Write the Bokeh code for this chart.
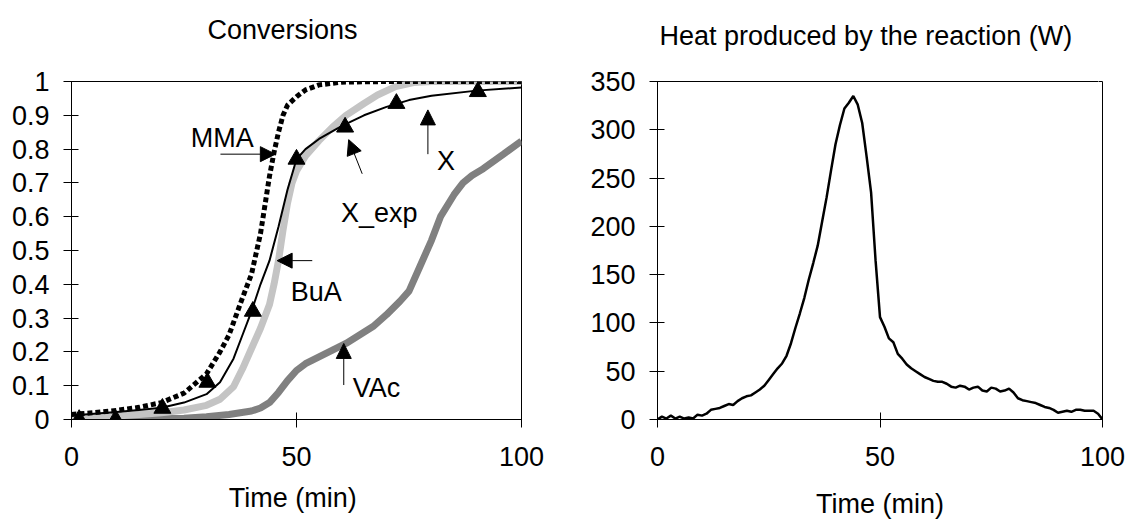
from bokeh.plotting import figure
from bokeh.layouts import row
from bokeh.models import Arrow, NormalHead, Label, Range1d, FixedTicker, LinearAxis, Title
from bokeh.embed import file_html
from bokeh.resources import INLINE

FONT = "Liberation Sans"
FS = "27px"

# ---------------- Conversions (left chart) ----------------
mma_t = [0, 5, 10, 15, 20, 25, 30, 33, 35, 38, 40, 42, 44, 45, 46, 47, 48, 50, 52, 55, 60, 70, 80, 90, 100]
mma_y = [0.015, 0.02, 0.027, 0.036, 0.05, 0.078, 0.135, 0.2, 0.25, 0.36, 0.43, 0.55, 0.72, 0.79, 0.85, 0.9,
         0.93, 0.955, 0.975, 0.99, 0.998, 1.0, 1.0, 1.0, 1.0]

bua_t = [0, 5, 10, 15, 20, 25, 30, 33, 36, 38, 40, 42, 44, 45, 46, 47, 48, 49, 50, 52, 55, 58, 61, 65, 68,
         72, 76, 80, 90, 100]
bua_y = [0.005, 0.007, 0.01, 0.015, 0.02, 0.028, 0.042, 0.06, 0.097, 0.15, 0.21, 0.27, 0.34, 0.4, 0.47, 0.56,
         0.64, 0.7, 0.735, 0.78, 0.825, 0.865, 0.9, 0.935, 0.96, 0.985, 0.997, 1.0, 1.0, 1.0]

x_t = [0, 5, 10, 15, 20, 25, 30, 33, 36, 38, 40, 42, 44, 46, 48, 50, 52, 55, 60, 65, 70, 75, 80, 90, 100]
x_y = [0.012, 0.017, 0.022, 0.028, 0.035, 0.05, 0.075, 0.11, 0.18, 0.25, 0.32, 0.4, 0.47, 0.57, 0.68, 0.77,
       0.8, 0.83, 0.868, 0.9, 0.925, 0.945, 0.958, 0.973, 0.982]

xexp_t = [1.7, 9.8, 20.2, 30.2, 40.3, 50.0, 60.8, 72.2, 90.3]
xexp_y = [0.0, 0.0, 0.033, 0.11, 0.32, 0.77, 0.865, 0.935, 0.97]

vac_t = [0, 10, 20, 25, 30, 35, 40, 42, 44, 46, 48, 50, 52, 55, 58, 61, 64, 67, 70, 73, 75, 77.5, 80, 82,
         85, 87, 89, 91.5, 96, 100]
vac_y = [0, 0.001, 0.002, 0.004, 0.008, 0.015, 0.025, 0.034, 0.05, 0.08, 0.115, 0.145, 0.165, 0.185, 0.205,
         0.225, 0.25, 0.275, 0.31, 0.35, 0.38, 0.455, 0.53, 0.6, 0.665, 0.7, 0.722, 0.742, 0.785, 0.824]

conv_yticks = [0, 0.1, 0.2, 0.3, 0.4, 0.5, 0.6, 0.7, 0.8, 0.9, 1]
time_ticks = [0, 50, 100]

# annotations: (text, text x, text baseline y, arrow start x, y, arrow end x, y)
notes = [
    ("MMA", 26.5, 0.834, 33.1, 0.785, 45.3, 0.785),
    ("BuA", 48.7, 0.378, 53.5, 0.47, 45.7, 0.47),
    ("X_exp", 59.9, 0.61, 64.6, 0.727, 61.6, 0.828),
    ("X", 81.2, 0.765, 79.2, 0.785, 79.2, 0.916),
    ("VAc", 62.5, 0.092, 60.5, 0.102, 60.5, 0.225),
]

# ---------------- Heat (right chart) ----------------
heat_t = list(range(0, 101))
heat_w = [0, 3, 1, 4, 1, 3, 1, 2, 1, 5, 4, 6, 10, 11, 12, 14, 16, 15, 19, 22,
          24, 25, 28, 31, 35, 41, 47, 53, 58, 66, 79, 95, 110, 126, 145, 162, 180, 205, 230, 258,
          285, 305, 322, 328, 335, 326, 307, 272, 235, 165, 106, 96, 84, 80, 68, 63, 57, 53, 50, 47,
          44, 42, 40, 39, 39, 37, 34, 33, 35, 34, 31, 33, 34, 30, 29, 33, 32, 29, 30, 32,
          28, 22, 20, 19, 18, 17, 15, 13, 12, 10, 7, 8, 9, 8, 10, 10, 9, 9, 9, 6, 0]
heat_yticks = [0, 50, 100, 150, 200, 250, 300, 350]


def style(p, xlabel, label_standoff):
    p.xgrid.visible = False
    p.ygrid.visible = False
    p.outline_line_color = "black"
    p.outline_line_width = 1
    p.outline_line_alpha = 1
    p.background_fill_color = "white"
    p.border_fill_color = "white"
    for ax in (p.xaxis, p.yaxis):
        ax.axis_line_color = "black"
        ax.axis_line_width = 1
        ax.major_tick_line_color = "black"
        ax.major_tick_in = 7
        ax.major_tick_out = 8
        ax.minor_tick_line_color = None
        ax.major_label_text_font = FONT
        ax.major_label_text_font_size = FS
        ax.major_label_text_color = "black"
    p.yaxis.major_label_standoff = 14
    p.xaxis.major_label_standoff = 19
    p.xaxis.axis_label = xlabel
    p.xaxis.axis_label_text_font = FONT
    p.xaxis.axis_label_text_font_size = FS
    p.xaxis.axis_label_text_font_style = "normal"
    p.xaxis.axis_label_text_color = "black"
    p.xaxis.axis_label_standoff = label_standoff
    p.xaxis.ticker = FixedTicker(ticks=time_ticks)


def add_title(p, text, offset, gap):
    # blank axis used only as a spacer between the frame and the title
    spacer = LinearAxis(ticker=FixedTicker(ticks=[99]), axis_line_color=None,
                        major_tick_line_color="white", minor_tick_line_color=None,
                        major_tick_in=0, major_tick_out=gap, major_label_standoff=0,
                        major_label_overrides={99: ""})
    p.add_layout(spacer, "above")
    p.add_layout(Title(text=text, align="left", offset=offset, standoff=0,
                       vertical_align="bottom", text_font=FONT, text_font_size=FS,
                       text_font_style="normal", text_color="black"), "above")


p1 = figure(width=560, height=521, x_range=Range1d(0, 100), y_range=Range1d(0, 1),
            output_backend="svg", toolbar_location=None,
            min_border_left=71, min_border_right=39, min_border_top=76, min_border_bottom=101)
style(p1, "Time  (min)", 14)
p1.yaxis.ticker = FixedTicker(ticks=conv_yticks)
p1.yaxis.major_label_overrides = {0: "0", 1: "1"}
add_title(p1, "Conversions", 136, 37)

p1.line(vac_t, vac_y, line_color="#808080", line_width=7)
p1.line(bua_t, bua_y, line_color="#C4C4C4", line_width=7)
p1.line(x_t, x_y, line_color="black", line_width=2)
p1.line(mma_t, mma_y, line_color="black", line_width=5, line_dash="5 3")
p1.scatter(xexp_t, xexp_y, marker="triangle", size=17, color="black")

for txt, tx, ty, xs, ys, xe, ye in notes:
    p1.add_layout(Arrow(end=NormalHead(size=15, fill_color="black", line_color="black"),
                        x_start=xs, y_start=ys, x_end=xe, y_end=ye,
                        line_color="black", line_width=1))
    p1.add_layout(Label(x=tx, y=ty, text=txt, text_font=FONT, text_font_size=FS,
                        text_color="black", text_baseline="alphabetic", text_align="left"))

p2 = figure(width=570, height=521, x_range=Range1d(0, 100), y_range=Range1d(0, 350),
            output_backend="svg", toolbar_location=None,
            min_border_left=97, min_border_right=28, min_border_top=81, min_border_bottom=98)
style(p2, "Time (min)", 20)
p2.yaxis.ticker = FixedTicker(ticks=heat_yticks)
add_title(p2, "Heat produced by the reaction (W)", 2, 31)
p2.line(heat_t, heat_w, line_color="black", line_width=2.5)

layout = row(p1, p2)
open("out.html", "w").write(file_html(layout, INLINE))
